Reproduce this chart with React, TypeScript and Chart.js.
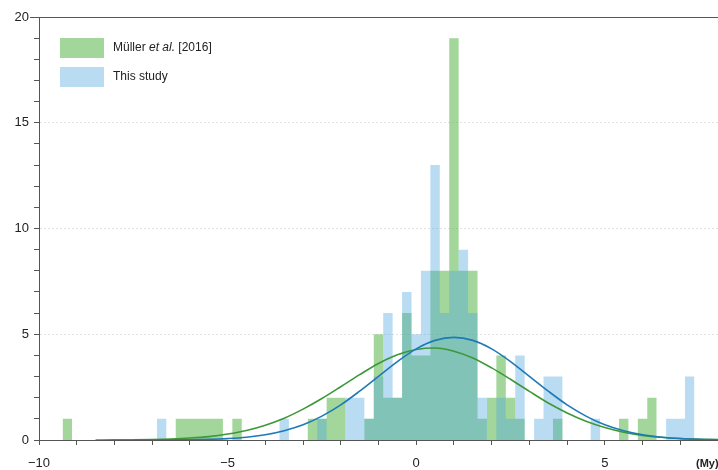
import React, { useEffect, useRef } from "react";
import { Chart, registerables } from "chart.js";

Chart.register(...registerables);

// Histogram bin centres (My) and counts, bin width 0.25
const BIN = 0.25;
const mullerBins = [-9.25, -6.25, -6.0, -5.75, -5.5, -5.25, -4.75, -2.75, -2.5, -2.25, -2.0, -1.25, -1.0, -0.75, -0.5, -0.25, 0.0, 0.25, 0.5, 0.75, 1.0, 1.25, 1.5, 1.75, 2.0, 2.25, 2.5, 2.75, 3.75, 5.5, 6.0, 6.25];
const mullerCounts = [1, 1, 1, 1, 1, 1, 1, 1, 1, 2, 2, 1, 5, 2, 2, 6, 4, 4, 8, 8, 19, 8, 8, 1, 2, 4, 2, 1, 1, 1, 1, 2];

const studyBins = [-6.75, -3.5, -2.5, -1.75, -1.5, -1.25, -1.0, -0.75, -0.5, -0.25, 0.0, 0.25, 0.5, 0.75, 1.0, 1.25, 1.5, 1.75, 2.25, 2.5, 2.75, 3.25, 3.5, 3.75, 4.75, 6.75, 7.0, 7.25];
const studyCounts = [1, 1, 1, 2, 2, 1, 3, 6, 2, 7, 5, 8, 13, 6, 8, 9, 6, 2, 2, 1, 4, 1, 3, 3, 1, 1, 1, 3];

// Fitted curves
const mullerCurveX = [-8.5, -8, -7.5, -7, -6.5, -6, -5.5, -5, -4.5, -4, -3.5, -3, -2.5, -2, -1.5, -1, -0.5, 0, 0.5, 1, 1.5, 2, 2.5, 3, 3.5, 4, 4.5, 5, 5.5, 6, 6.5, 7, 7.5, 8];
const mullerCurveY = [0.002, 0.006, 0.012, 0.025, 0.048, 0.091, 0.16, 0.28, 0.45, 0.7, 1.03, 1.46, 1.96, 2.52, 3.09, 3.62, 4.03, 4.28, 4.35, 4.2, 3.88, 3.41, 2.87, 2.3, 1.75, 1.28, 0.89, 0.59, 0.37, 0.22, 0.13, 0.071, 0.037, 0.019];

const studyCurveX = [-7.5, -7, -6.5, -6, -5.5, -5, -4.5, -4, -3.5, -3, -2.5, -2, -1.5, -1, -0.5, 0, 0.5, 1, 1.5, 2, 2.5, 3, 3.5, 4, 4.5, 5, 5.5, 6, 6.5, 7, 7.5, 8];
const studyCurveY = [0.001, 0.002, 0.006, 0.014, 0.032, 0.067, 0.13, 0.25, 0.44, 0.72, 1.13, 1.66, 2.31, 3.01, 3.71, 4.31, 4.71, 4.85, 4.71, 4.31, 3.71, 3.01, 2.31, 1.66, 1.13, 0.72, 0.44, 0.25, 0.13, 0.067, 0.032, 0.014];

const xTickLabels = [-10, -5, 0, 5];
const yTickLabels = [0, 5, 10, 15, 20];
const yGridValues = [5, 10, 15];

const GREEN_FILL = "rgba(102,187,88,0.6)";
const BLUE_FILL = "rgba(80,168,225,0.4)";
const GREEN_LINE = "rgb(62,152,58)";
const BLUE_LINE = "rgb(30,122,182)";
const AXIS = "#555555";
const FONT = "'Liberation Sans', Arial, sans-serif";

const fmt = (v: number) => (v < 0 ? "\u2212" + Math.abs(v) : String(v));

// Builds step outline points (left bin edges) for a histogram
function histPoints(bins: number[], counts: number[]) {
  const pts: { x: number; y: number }[] = [];
  for (let i = 0; i < bins.length; i++) {
    const c = bins[i];
    pts.push({ x: c - BIN / 2, y: counts[i] });
    const next = bins[i + 1];
    if (next === undefined || Math.abs(next - c - BIN) > 1e-9) {
      pts.push({ x: c + BIN / 2, y: 0 });
    }
  }
  return pts;
}

const decorPlugin = {
  id: "decor",
  afterDraw(chart: any) {
    const { ctx, chartArea } = chart;
    ctx.save();
    // top frame line
    ctx.strokeStyle = AXIS;
    ctx.lineWidth = 1;
    ctx.beginPath();
    ctx.moveTo(30, chartArea.top + 0.5);
    ctx.lineTo(chartArea.right, chartArea.top + 0.5);
    ctx.stroke();

    // legend
    const sx = 60, sw = 44, sh = 20;
    ctx.fillStyle = GREEN_FILL;
    ctx.fillRect(sx, 38, sw, sh);
    ctx.fillStyle = BLUE_FILL;
    ctx.fillRect(sx, 67, sw, sh);

    ctx.fillStyle = "#222";
    ctx.textBaseline = "middle";
    ctx.textAlign = "left";
    let tx = 113;
    const ty1 = 48;
    ctx.font = `12px ${FONT}`;
    const p1 = "M\u00fcller ";
    ctx.fillText(p1, tx, ty1);
    tx += ctx.measureText(p1).width;
    ctx.font = `italic 12px ${FONT}`;
    const p2 = "et al.";
    ctx.fillText(p2, tx, ty1);
    tx += ctx.measureText(p2).width;
    ctx.font = `12px ${FONT}`;
    ctx.fillText(" [2016]", tx, ty1);

    ctx.fillText("This study", 113, 77);

    // unit label
    ctx.font = `bold 11px ${FONT}`;
    ctx.fillStyle = "#222";
    ctx.fillText("(My)", 696, 464);
    ctx.restore();
  },
};

export default function App() {
  const ref = useRef<HTMLCanvasElement>(null);

  useEffect(() => {
    document.body.style.margin = "0";
    const canvas = ref.current;
    if (!canvas) return;
    const chart = new Chart(canvas, {
      type: "line",
      data: {
        datasets: [
          {
            label: "This study fit",
            data: studyCurveX.map((x, i) => ({ x, y: studyCurveY[i] })),
            borderColor: BLUE_LINE,
            borderWidth: 1.6,
            pointRadius: 0,
            cubicInterpolationMode: "monotone",
            fill: false,
            order: 0,
          } as any,
          {
            label: "Müller fit",
            data: mullerCurveX.map((x, i) => ({ x, y: mullerCurveY[i] })),
            borderColor: GREEN_LINE,
            borderWidth: 1.6,
            pointRadius: 0,
            cubicInterpolationMode: "monotone",
            fill: false,
            order: 1,
          } as any,
          {
            label: "This study",
            data: histPoints(studyBins, studyCounts),
            backgroundColor: BLUE_FILL,
            borderColor: "rgba(0,0,0,0)",
            borderWidth: 0,
            pointRadius: 0,
            stepped: true,
            tension: 0,
            fill: "origin",
            order: 2,
          } as any,
          {
            label: "Müller et al. [2016]",
            data: histPoints(mullerBins, mullerCounts),
            backgroundColor: GREEN_FILL,
            borderColor: "rgba(0,0,0,0)",
            borderWidth: 0,
            pointRadius: 0,
            stepped: true,
            tension: 0,
            fill: "origin",
            order: 3,
          } as any,
        ],
      },
      options: {
        responsive: false,
        animation: false,
        devicePixelRatio: 1,
        layout: { padding: { top: 17, right: 0, left: 0, bottom: 0 }, autoPadding: false },
        plugins: {
          legend: { display: false },
          tooltip: { enabled: false },
        },
        scales: {
          x: {
            type: "linear",
            min: -10,
            max: 8,
            offset: false,
            afterFit: (s: any) => {
              s.height = 30;
              s.paddingLeft = 0;
              s.paddingRight = 0;
            },
            ticks: {
              stepSize: 1,
              autoSkip: false,
              maxRotation: 0,
              padding: 11,
              color: "#222",
              font: { family: FONT, size: 13 },
              callback: (v: any) => (xTickLabels.includes(Number(v)) ? fmt(Number(v)) : ""),
            },
            grid: {
              offset: false,
              drawOnChartArea: false,
              drawTicks: true,
              tickLength: 5,
              tickColor: AXIS,
            },
            border: { display: true, color: AXIS, width: 1 },
          },
          y: {
            min: 0,
            max: 20,
            afterFit: (s: any) => {
              s.width = 39;
            },
            ticks: {
              stepSize: 1,
              autoSkip: false,
              padding: 5,
              color: "#222",
              font: { family: FONT, size: 13 },
              callback: (v: any) => (yTickLabels.includes(Number(v)) ? String(v) : ""),
            },
            grid: {
              drawOnChartArea: true,
              drawTicks: true,
              tickLength: 5,
              tickColor: AXIS,
              color: (c: any) =>
                c.tick && yGridValues.includes(c.tick.value) ? "#e2e2e2" : "rgba(0,0,0,0)",
            },
            border: { display: true, color: AXIS, width: 1, dash: [2, 2] },
          },
        },
      } as any,
      plugins: [decorPlugin],
    });
    return () => chart.destroy();
  }, []);

  return (
    <div style={{ position: "fixed", left: 0, top: 0, width: 718, height: 470, background: "#fff" }}>
      <canvas ref={ref} width={718} height={470} style={{ display: "block" }} />
    </div>
  );
}
